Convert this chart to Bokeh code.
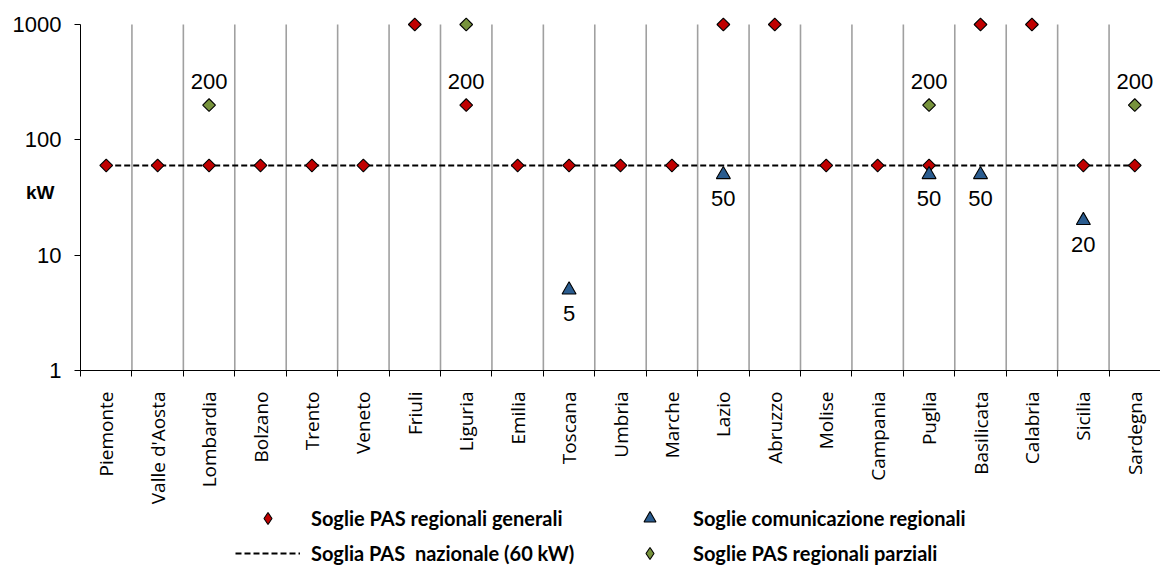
from math import pi
from bokeh.plotting import figure
from bokeh.layouts import column
from bokeh.models import (Range1d, LinearAxis, FixedTicker, Legend, LegendItem,
                          PrintfTickFormatter)
from bokeh.core.properties import value
from bokeh.embed import file_html
from bokeh.resources import INLINE

# ---------------- data ----------------
regions = ["Piemonte", "Valle d'Aosta", "Lombardia", "Bolzano", "Trento", "Veneto", "Friuli",
           "Liguria", "Emilia", "Toscana", "Umbria", "Marche", "Lazio", "Abruzzo", "Molise",
           "Campania", "Puglia", "Basilicata", "Calabria", "Sicilia", "Sardegna"]
general = [60, 60, 60, 60, 60, 60, 1000, 200, 60, 60, 60, 60, 1000, 1000, 60, 60, 60,
           1000, 1000, 60, 60]
national = [60] * len(regions)
comm_regions = ["Toscana", "Lazio", "Puglia", "Basilicata", "Sicilia"]
comm_values = [5, 50, 50, 50, 20]
partial_regions = ["Lombardia", "Liguria", "Puglia", "Sardegna"]
partial_values = [200, 1000, 200, 200]
above_label_regions = ["Lombardia", "Liguria", "Puglia", "Sardegna"]
above_label_values = [200, 200, 200, 200]
below_label_regions = comm_regions
below_label_values = comm_values
y_ticks = [1, 10, 100, 1000]

legend_labels = ["Soglie PAS regionali generali", "Soglie comunicazione regionali",
                 "Soglia PAS  nazionale (60 kW)", "Soglie PAS regionali parziali"]

RED = "#C00000"
BLUE = "#2A5C8F"
GREEN = "#77933C"

n = len(regions)
# category slot -> centre coordinate on a 0..n axis (one unit per region)
slot = {r: i + 0.5 for i, r in enumerate(regions)}
def xs(names):
    return [slot[r] for r in names]

# a little head-room above 1000 so the top markers are not clipped
PLOT_H = 346          # pixels for the three decades 1..1000
PAD = 10              # head-room pixels above 1000
BOTTOM = 137
y_top = y_ticks[-1] * 10 ** (PAD * 3 / PLOT_H)

p = figure(width=1160, height=14 + PLOT_H + PAD + BOTTOM,
           x_range=Range1d(0, n), y_range=Range1d(y_ticks[0], y_top), y_axis_type="log",
           x_axis_location=None,
           output_backend="svg", toolbar_location=None,
           min_border_left=80, min_border_right=0, min_border_top=14, min_border_bottom=BOTTOM)
p.outline_line_color = None
p.xgrid.visible = False
p.ygrid.visible = False
p.background_fill_color = "white"

# y axis
yax = p.yaxis[0]
yax.bounds = (y_ticks[0], y_ticks[-1])
yax.ticker = FixedTicker(ticks=y_ticks)
yax.formatter = PrintfTickFormatter(format="%d")
yax.major_tick_out = 6
yax.major_tick_in = 0
yax.minor_tick_line_color = None
yax.axis_line_color = "black"
yax.major_tick_line_color = "black"
yax.major_label_text_font = "Liberation Sans"
yax.major_label_text_font_size = "22px"
yax.major_label_text_color = "black"
yax.major_label_standoff = 13
yax.axis_label = "kW"
yax.axis_label_orientation = "horizontal"
yax.axis_label_standoff = -45
yax.axis_label_text_font = "Liberation Sans"
yax.axis_label_text_font_style = "bold"
yax.axis_label_text_font_size = "19px"
yax.axis_label_text_color = "black"

# x axis: ticks at category boundaries
bticks = list(range(0, n))
axA = LinearAxis(ticker=FixedTicker(ticks=bticks),
                 major_label_overrides={t: "" for t in bticks},
                 major_label_text_font_size="1px", major_label_standoff=0,
                 major_tick_out=6, major_tick_in=0, minor_tick_line_color=None,
                 axis_line_color="black", major_tick_line_color="black")
p.add_layout(axA, "below")
# x axis: category names at centres
centres = xs(regions)
axB = LinearAxis(ticker=FixedTicker(ticks=centres),
                 major_label_overrides={c: r for c, r in zip(centres, regions)},
                 major_tick_line_color=None, minor_tick_line_color=None, axis_line_color=None,
                 major_label_orientation=pi / 2, major_label_standoff=9,
                 major_label_text_font="Open Sans", major_label_text_font_size="19px",
                 major_label_text_color="black")
p.add_layout(axB, "below")

# vertical separators between regions, spanning the axis extent 1..1000
sep = list(range(1, n))
p.segment(x0=sep, y0=[y_ticks[0]] * len(sep), x1=sep, y1=[y_ticks[-1]] * len(sep),
          line_color="#a0a0a0", line_width=1.6)

# series
line_kw = dict(line_color="black", line_width=2, line_dash="6 3")
red_kw = dict(marker="square", angle=pi / 4, size=9, fill_color=RED, line_color="black",
              line_width=1.1)
blue_kw = dict(marker="triangle", size=14, fill_color=BLUE, line_color="black", line_width=1.1)
green_kw = dict(marker="square", angle=pi / 4, size=9, fill_color=GREEN, line_color="black",
                line_width=1.1)

p.line(x=xs(regions), y=national, **line_kw)
p.scatter(x=xs(regions), y=general, **red_kw)
p.scatter(x=xs(comm_regions), y=comm_values, **blue_kw)
p.scatter(x=xs(partial_regions), y=partial_values, **green_kw)

# data labels
p.text(x=xs(above_label_regions), y=above_label_values,
       text=[str(v) for v in above_label_values],
       y_offset=-24, text_align="center", text_baseline="middle",
       text_font=value("Liberation Sans"), text_font_size="22px", text_color="black")
p.text(x=xs(below_label_regions), y=below_label_values,
       text=[str(v) for v in below_label_values],
       y_offset=24, text_align="center", text_baseline="middle",
       text_font=value("Liberation Sans"), text_font_size="22px", text_color="black")

# ---------------- legend strip ----------------
main_h = 14 + PLOT_H + PAD + BOTTOM
LEG_H = 567 - main_h
lf = figure(width=1160, height=LEG_H, x_range=Range1d(0, 1), y_range=Range1d(0, 1),
            output_backend="svg", toolbar_location=None,
            min_border_left=0, min_border_right=0, min_border_top=0, min_border_bottom=0)
lf.axis.visible = False
lf.grid.visible = False
lf.outline_line_color = None

nan = [float("nan")]
leg_red = dict(red_kw, marker="diamond", angle=0)
leg_green = dict(green_kw, marker="diamond", angle=0)
l_red = lf.scatter(x=nan, y=nan, **leg_red)
l_blue = lf.scatter(x=nan, y=nan, **blue_kw)
l_line = lf.line(x=nan, y=nan, **line_kw)
l_green = lf.scatter(x=nan, y=nan, **leg_green)

GH = 30
SP = 5
legend = Legend(items=[LegendItem(label=legend_labels[0], renderers=[l_red]),
                       LegendItem(label=legend_labels[1], renderers=[l_blue]),
                       LegendItem(label=legend_labels[2], renderers=[l_line]),
                       LegendItem(label=legend_labels[3], renderers=[l_green])],
                orientation="horizontal", ncols=2,
                location=(155, LEG_H - (2 * GH + SP) + 4), glyph_width=65, glyph_height=GH,
                label_height=GH, label_standoff=11, spacing=SP, padding=0, margin=0,
                label_width=301, border_line_color=None, background_fill_alpha=0,
                label_text_font="Lato", label_text_font_style="bold",
                label_text_font_size="20px", label_text_color="black")
lf.add_layout(legend, "center")

layout = column(p, lf, spacing=0)
open("out.html", "w").write(file_html(layout, INLINE))
